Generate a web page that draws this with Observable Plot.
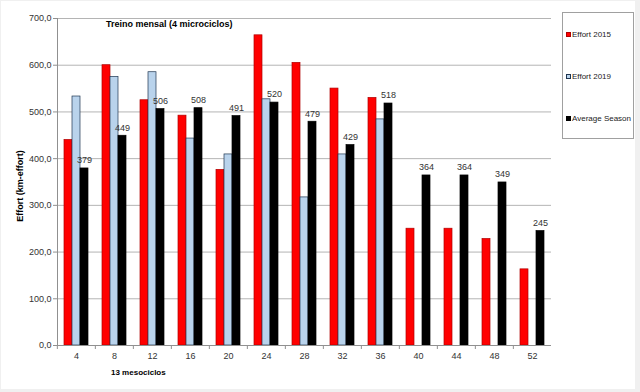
<!DOCTYPE html>
<html>
<head>
<meta charset="utf-8">
<script src="https://cdn.jsdelivr.net/npm/d3@7"></script>
<script src="https://cdn.jsdelivr.net/npm/@observablehq/plot@0.6"></script>
<style>
  html, body { margin: 0; padding: 0; background: #f0f0f0; }
  #wrap { position: relative; width: 640px; height: 392px; font-family: "Liberation Sans", Arial, sans-serif; }
  #card { position: absolute; left: 1px; top: 1px; width: 634px; height: 388px; background: #fff; }
  #chart { position: absolute; left: 0; top: 0; }
  .lbl { position: absolute; font-weight: bold; color: #000; white-space: nowrap; }
  #legend { position: absolute; left: 562px; top: 12px; width: 70px; height: 125px; border: 1px solid #a0a0a0; background: #fff; font-size: 8px; color: #222; }
  .item { position: absolute; left: 3px; display: flex; align-items: center; white-space: nowrap; }
  .sw { width: 5px; height: 5px; margin-right: 1px; box-sizing: border-box; }
</style>
</head>
<body>
<div id="wrap">
  <div id="card"></div>
  <div id="chart"></div>
  <div class="lbl" style="left:106px; top:19px; font-size:9px;">Treino mensal (4 microciclos)</div>
  <div class="lbl" style="left:20px; top:186px; font-size:9px; transform: translate(-50%,-50%) rotate(-90deg);">Effort (km-effort)</div>
  <div class="lbl" style="left:111px; top:368px; font-size:8px;">13 mesociclos</div>
  <div id="legend"></div>
</div>
<script>
const weeks = ["4","8","12","16","20","24","28","32","36","40","44","48","52"];
const effort2015 = [440,600,525,492,376,664,605,550,530,250,250,228,163];
const effort2019 = [533,575,585,443,409,527,317,409,484,null,null,null,null];
const averageSeason = [379,449,506,508,491,520,479,429,518,364,364,349,245];
const seriesNames = ["Effort 2015","Effort 2019","Average Season"];
const seriesColors = ["#ff0000","#b9d3ec","#000000"];
const seriesStrokes = ["#b00000","#1f3550","#000000"];
const yTicks = [0,100,200,300,400,500,600,700];

const seriesValues = [effort2015, effort2019, averageSeason];
const rows = seriesNames.flatMap((s, i) =>
  weeks.map((w, j) => ({week: w, series: s, value: seriesValues[i][j]})).filter(d => d.value != null)
);
const avgRows = rows.filter(d => d.series === "Average Season");

const fmt = d => d.toFixed(1).replace(".", ",");

const W = 640, ML = 55, MR = 87;
const halfBand = (W - ML - MR) / weeks.length / 2;

const plot = Plot.plot({
  width: W,
  height: 392,
  marginLeft: ML,
  marginRight: MR,
  marginTop: 18,
  marginBottom: 47,
  style: {fontFamily: "Liberation Sans, Arial, sans-serif", background: "transparent"},
  fx: {domain: weeks, padding: 0, label: null},
  x: {domain: seriesNames, axis: null, paddingInner: 0, paddingOuter: 0.75},
  y: {domain: [0, 700], label: null},
  color: {domain: seriesNames, range: seriesColors},
  marks: [
    Plot.gridY(yTicks, {stroke: "#b4b4b4", strokeOpacity: 1, strokeWidth: 1}),
    ...seriesNames.map((s, i) =>
      Plot.barY(rows.filter(d => d.series === s), {
        fx: "week", x: "series", y: "value",
        fill: seriesColors[i], stroke: seriesStrokes[i], strokeWidth: 0.7
      })
    ),
    Plot.text(avgRows, {
      fx: "week", x: "series", y: "value", text: d => String(d.value),
      dy: -8, fontSize: 9, fill: "#333"
    }),
    Plot.ruleY([0], {stroke: "#909090"}),
    Plot.axisY(yTicks, {tickFormat: fmt, tickSize: 4, tickPadding: 2, fontSize: 9, fill: "#333", stroke: "#909090", label: null}),
    Plot.axisFx({anchor: "bottom", tickSize: 4, tickFormat: () => "", dx: -halfBand, stroke: "#909090", label: null}),
    Plot.axisFx({anchor: "bottom", tickSize: 0, tickPadding: 7, fontSize: 9, fill: "#333", label: null}),
    Plot.frame({anchor: "left", stroke: "#909090", facetAnchor: "left"})
  ]
});
document.getElementById("chart").appendChild(plot);

const legend = document.getElementById("legend");
const tops = [17, 59, 101];
seriesNames.forEach((s, i) => {
  const it = document.createElement("div");
  it.className = "item";
  it.style.top = tops[i] + "px";
  const sw = document.createElement("div");
  sw.className = "sw";
  sw.style.background = seriesColors[i];
  sw.style.border = "1px solid " + seriesStrokes[i];
  const t = document.createElement("span");
  t.textContent = s;
  it.appendChild(sw);
  it.appendChild(t);
  legend.appendChild(it);
});
</script>
</body>
</html>
